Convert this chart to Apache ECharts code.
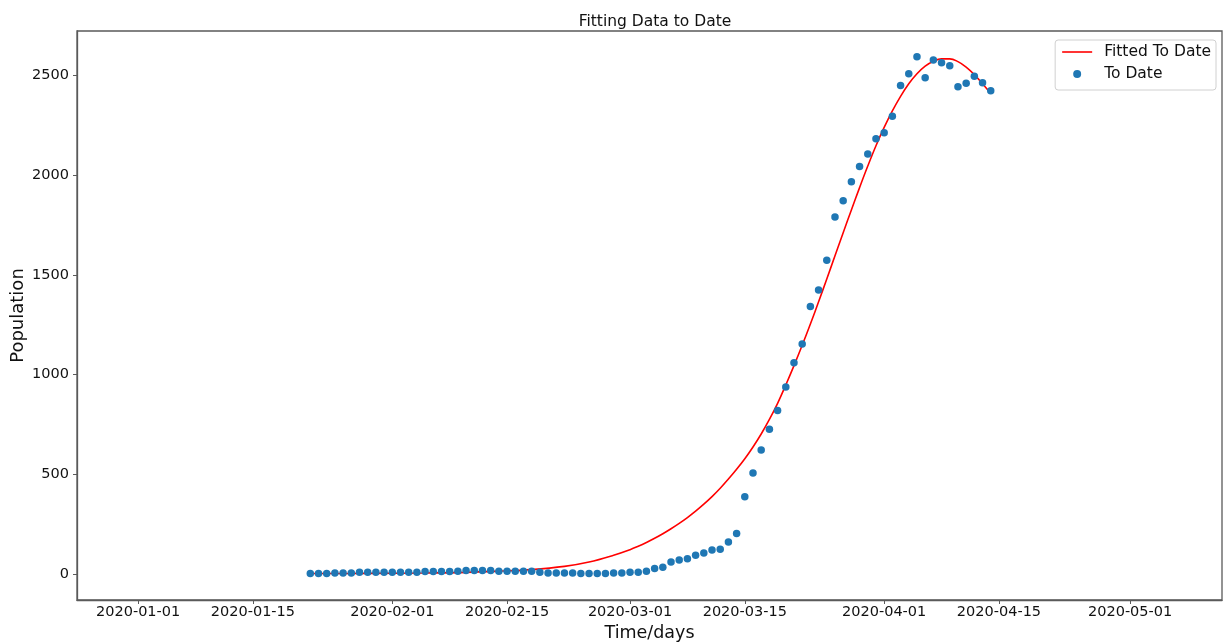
<!DOCTYPE html>
<html>
<head>
<meta charset="utf-8">
<script src="https://cdn.jsdelivr.net/npm/echarts@6/dist/echarts.min.js"></script>
<style>
html,body{margin:0;padding:0;background:#fff;}
#chart{width:1223px;height:643px;}
</style>
</head>
<body>
<div id="chart"></div>
<script>
// ---- data ----
const startDate = '2020-01-22';
const observed = [
  2, 2, 2, 5, 5, 5, 8, 8, 8, 8,
  8, 8, 8, 8, 12, 12, 12, 12, 13, 17, 17, 17, 17, 13, 13, 13, 13, 13, 8, 5, 5, 5, 5, 2, 2, 2, 2, 5, 5,
  8, 8, 13, 27, 34, 60, 70, 76, 94, 105, 120, 124, 160, 203, 387, 506, 622, 726, 820, 938, 1059, 1154,
  1342, 1424, 1574, 1790, 1872, 1968, 2044, 2107, 2183,
  2213, 2296, 2450, 2509, 2594, 2489, 2578, 2564, 2549, 2444, 2461, 2497, 2464, 2424
];
const fitDates = [
  '2020-01-22','2020-01-29','2020-02-05','2020-02-10','2020-02-14','2020-02-18','2020-02-22',
  '2020-02-25','2020-02-28',
  '2020-03-01','2020-03-02','2020-03-03','2020-03-04','2020-03-05','2020-03-06','2020-03-07',
  '2020-03-08','2020-03-09','2020-03-10','2020-03-11','2020-03-12','2020-03-13','2020-03-14',
  '2020-03-15','2020-03-16','2020-03-17','2020-03-18','2020-03-19','2020-03-20','2020-03-21',
  '2020-03-22','2020-03-23','2020-03-24','2020-03-25','2020-03-26','2020-03-27','2020-03-28',
  '2020-03-29','2020-03-30','2020-03-31','2020-04-01','2020-04-02','2020-04-03','2020-04-04',
  '2020-04-05','2020-04-06','2020-04-07','2020-04-08','2020-04-09','2020-04-10','2020-04-11',
  '2020-04-12','2020-04-13','2020-04-14'
];
const fitValues = [
  2, 3, 5, 8, 14, 22, 38,
  60, 94,
  122, 139, 158, 179, 202, 227, 254,
  283, 315, 350, 388, 430, 476, 525,
  578, 637, 702, 775, 856, 948, 1045,
  1147, 1254, 1365, 1480, 1596, 1712, 1826,
  1938, 2046, 2148, 2240, 2323, 2396, 2459,
  2509, 2547, 2572, 2584, 2584, 2570, 2543,
  2505, 2459, 2410
];
const xTickLabels = ['2020-01-01','2020-01-15','2020-02-01','2020-02-15','2020-03-01','2020-03-15','2020-04-01','2020-04-15','2020-05-01'];
const yTickValues = [0, 500, 1000, 1500, 2000, 2500];
const xRange = ['2019-12-24T13:00:00Z', '2020-05-12T05:00:00Z'];
const yRange = [-130.6, 2723.6];

// ---- build ----
const DAY = 86400000;
const t0 = Date.parse(startDate + 'T00:00:00Z');
const scatterData = observed.map((v, i) => [t0 + i * DAY, v]);
const lineData = fitDates.map((d, i) => [Date.parse(d + 'T00:00:00Z'), fitValues[i]]);
const xTicks = xTickLabels.map(d => Date.parse(d + 'T00:00:00Z'));
const pad = n => (n < 10 ? '0' : '') + n;
const fmtDate = v => { const d = new Date(v); return d.getUTCFullYear() + '-' + pad(d.getUTCMonth() + 1) + '-' + pad(d.getUTCDate()); };

const FONT = '"DejaVu Sans", sans-serif';
const AX = '#5a5a5a';

const chart = echarts.init(document.getElementById('chart'), null, {renderer: 'canvas'});
chart.setOption({
  animation: false,
  backgroundColor: '#fff',
  title: {
    text: 'Fitting Data to Date',
    left: 650, top: 9, textAlign: 'center',
    textStyle: {fontFamily: FONT, fontSize: 15.5, fontWeight: 'normal', color: '#111'}
  },
  grid: {
    left: 77, right: 1, top: 31, bottom: 43,
    outerBoundsMode: 'none', containLabel: false,
    show: true, borderColor: AX, borderWidth: 1.3, backgroundColor: 'transparent'
  },
  legend: {
    orient: 'vertical', right: 7, top: 40,
    padding: [4, 5, 8, 7],
    borderColor: '#d0d0d0', borderWidth: 1, borderRadius: 3,
    backgroundColor: '#fff',
    itemWidth: 30, itemHeight: 8, itemGap: 6,
    textStyle: {fontFamily: FONT, fontSize: 15.5, color: '#111', lineHeight: 16, padding: [0,0,0,7]},
    data: [
      {name: 'Fitted To Date', icon: 'path://M0,0 L30,0 L30,1.6 L0,1.6 Z'},
      {name: 'To Date', icon: 'circle'}
    ]
  },
  xAxis: {
    type: 'value',
    min: Date.parse(xRange[0]), max: Date.parse(xRange[1]),
    name: 'Time/days', nameLocation: 'middle', nameGap: 20,
    nameTextStyle: {fontFamily: FONT, fontSize: 17.5, color: '#111'},
    axisLine: {show: true, onZero: false, lineStyle: {color: AX, width: 1.3}},
    axisTick: {show: true, inside: false, length: 4, lineStyle: {color: AX}, customValues: xTicks},
    axisLabel: {
      customValues: xTicks, margin: 5,
      fontFamily: FONT, fontSize: 14.5, color: '#111',
      formatter: fmtDate
    },
    splitLine: {show: false}
  },
  yAxis: {
    type: 'value',
    min: yRange[0], max: yRange[1],
    name: 'Population', nameLocation: 'middle', nameGap: 50, nameRotate: 90,
    nameMoveOverlap: false,
    nameTextStyle: {fontFamily: FONT, fontSize: 18, color: '#111'},
    axisLine: {show: true, onZero: false, lineStyle: {color: AX, width: 1.3}},
    axisTick: {show: true, inside: false, length: 4, lineStyle: {color: AX}, customValues: yTickValues},
    axisLabel: {
      customValues: yTickValues, margin: 8,
      fontFamily: FONT, fontSize: 14.5, color: '#111',
      formatter: v => String(v)
    },
    splitLine: {show: false}
  },
  series: [
    {
      name: 'Fitted To Date', type: 'line', data: lineData,
      showSymbol: false, symbol: 'none', smooth: 0.4,
      lineStyle: {color: '#ff0000', width: 1.6},
      itemStyle: {color: '#ff0000'},
      z: 2
    },
    {
      name: 'To Date', type: 'scatter', data: scatterData,
      symbol: 'circle', symbolSize: 7.5,
      itemStyle: {color: '#1f77b4', opacity: 1},
      z: 3
    }
  ]
});
</script>
</body>
</html>
